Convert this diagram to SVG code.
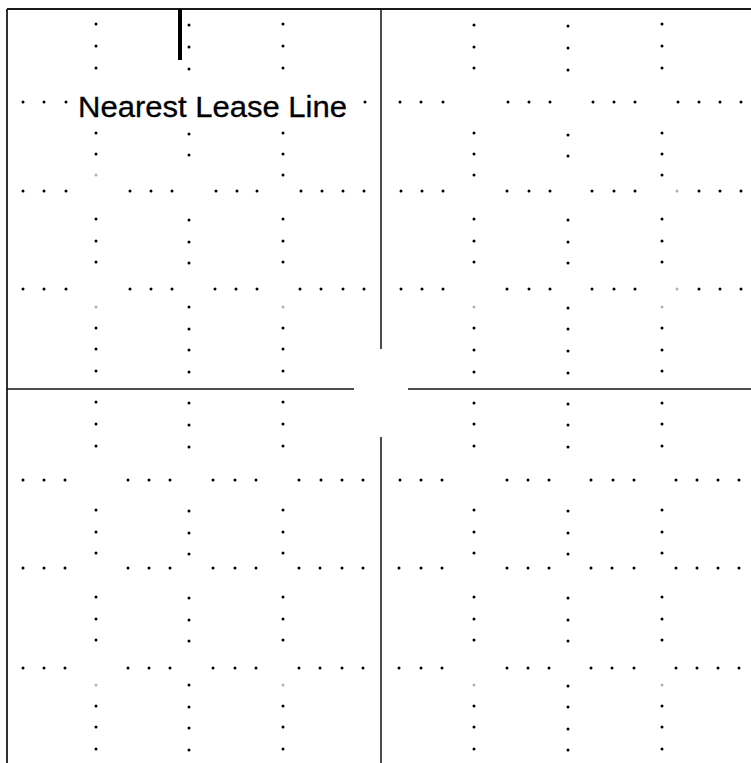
<svg xmlns="http://www.w3.org/2000/svg" xmlns:xlink="http://www.w3.org/1999/xlink" width="751" height="763" viewBox="0 0 751 763">
<style>
.frame{stroke:#1a1a1a;stroke-width:1.8;fill:none}
.axis{stroke:#111;stroke-width:1.5;fill:none}
.dot{fill:#000}
.faint{opacity:0.3}
.label{font-family:"Liberation Sans",Arial,sans-serif;font-size:29px;fill:#000;stroke:#000;stroke-width:0.3}
</style>
<defs>
<circle id="d" r="1.5" class="dot"/>
</defs>
<rect width="751" height="763" fill="#fff"/>
<g id="frame">
<line class="frame" x1="7" y1="9" x2="751" y2="9"/>
<line class="frame" x1="7" y1="9" x2="7" y2="763"/>
</g>
<g id="axes">
<line class="axis" x1="381" y1="9" x2="381" y2="349"/>
<line class="axis" x1="381" y1="437" x2="381" y2="763"/>
<line class="axis" x1="7" y1="389" x2="354" y2="389"/>
<line class="axis" x1="408" y1="389" x2="751" y2="389"/>
</g>
<g id="marker-bar">
<rect x="178" y="9" width="4" height="51" fill="#000"/>
</g>
<g id="dots-vertical">
<use xlink:href="#d" x="96" y="24"/><use xlink:href="#d" x="96" y="46"/><use xlink:href="#d" x="96" y="68"/>
<use xlink:href="#d" x="96" y="133"/><use xlink:href="#d" x="96" y="154"/><use xlink:href="#d" x="96" y="175" class="faint"/>
<use xlink:href="#d" x="96" y="219"/><use xlink:href="#d" x="96" y="241"/><use xlink:href="#d" x="96" y="262"/>
<use xlink:href="#d" x="96" y="307" class="faint"/><use xlink:href="#d" x="96" y="328"/><use xlink:href="#d" x="96" y="349"/><use xlink:href="#d" x="96" y="371"/>
<use xlink:href="#d" x="96" y="402"/><use xlink:href="#d" x="96" y="424"/><use xlink:href="#d" x="96" y="446"/>
<use xlink:href="#d" x="96" y="510"/><use xlink:href="#d" x="96" y="532"/><use xlink:href="#d" x="96" y="553"/>
<use xlink:href="#d" x="96" y="597"/><use xlink:href="#d" x="96" y="619"/><use xlink:href="#d" x="96" y="640"/>
<use xlink:href="#d" x="96" y="685" class="faint"/><use xlink:href="#d" x="96" y="706"/><use xlink:href="#d" x="96" y="727"/><use xlink:href="#d" x="96" y="749"/>
<use xlink:href="#d" x="189" y="25"/><use xlink:href="#d" x="189" y="47"/><use xlink:href="#d" x="189" y="69"/>
<use xlink:href="#d" x="189" y="134"/><use xlink:href="#d" x="189" y="155"/>
<use xlink:href="#d" x="189" y="220"/><use xlink:href="#d" x="189" y="242"/><use xlink:href="#d" x="189" y="263"/>
<use xlink:href="#d" x="189" y="307"/><use xlink:href="#d" x="189" y="329"/><use xlink:href="#d" x="189" y="350"/><use xlink:href="#d" x="189" y="372"/>
<use xlink:href="#d" x="189" y="403"/><use xlink:href="#d" x="189" y="425"/><use xlink:href="#d" x="189" y="447"/>
<use xlink:href="#d" x="189" y="511"/><use xlink:href="#d" x="189" y="533"/><use xlink:href="#d" x="189" y="554"/>
<use xlink:href="#d" x="189" y="598"/><use xlink:href="#d" x="189" y="620"/><use xlink:href="#d" x="189" y="641"/>
<use xlink:href="#d" x="189" y="685"/><use xlink:href="#d" x="189" y="707"/><use xlink:href="#d" x="189" y="728"/><use xlink:href="#d" x="189" y="750"/>
<use xlink:href="#d" x="283" y="24"/><use xlink:href="#d" x="283" y="46"/><use xlink:href="#d" x="283" y="68"/>
<use xlink:href="#d" x="283" y="133"/><use xlink:href="#d" x="283" y="154"/><use xlink:href="#d" x="283" y="175"/>
<use xlink:href="#d" x="283" y="219"/><use xlink:href="#d" x="283" y="241"/><use xlink:href="#d" x="283" y="262"/>
<use xlink:href="#d" x="283" y="307" class="faint"/><use xlink:href="#d" x="283" y="328"/><use xlink:href="#d" x="283" y="349"/><use xlink:href="#d" x="283" y="371"/>
<use xlink:href="#d" x="283" y="402"/><use xlink:href="#d" x="283" y="424"/><use xlink:href="#d" x="283" y="446"/>
<use xlink:href="#d" x="283" y="510"/><use xlink:href="#d" x="283" y="532"/><use xlink:href="#d" x="283" y="553"/>
<use xlink:href="#d" x="283" y="597"/><use xlink:href="#d" x="283" y="619"/><use xlink:href="#d" x="283" y="640"/>
<use xlink:href="#d" x="283" y="685" class="faint"/><use xlink:href="#d" x="283" y="706"/><use xlink:href="#d" x="283" y="727"/><use xlink:href="#d" x="283" y="749"/>
<use xlink:href="#d" x="474" y="25"/><use xlink:href="#d" x="474" y="47"/><use xlink:href="#d" x="474" y="68"/>
<use xlink:href="#d" x="474" y="133"/><use xlink:href="#d" x="474" y="154"/><use xlink:href="#d" x="474" y="175"/>
<use xlink:href="#d" x="474" y="219"/><use xlink:href="#d" x="474" y="241"/><use xlink:href="#d" x="474" y="262"/>
<use xlink:href="#d" x="474" y="307" class="faint"/><use xlink:href="#d" x="474" y="328"/><use xlink:href="#d" x="474" y="350"/><use xlink:href="#d" x="474" y="372"/>
<use xlink:href="#d" x="474" y="403"/><use xlink:href="#d" x="474" y="424"/><use xlink:href="#d" x="474" y="446"/>
<use xlink:href="#d" x="474" y="510"/><use xlink:href="#d" x="474" y="532"/><use xlink:href="#d" x="474" y="553"/>
<use xlink:href="#d" x="474" y="597"/><use xlink:href="#d" x="474" y="619"/><use xlink:href="#d" x="474" y="640"/>
<use xlink:href="#d" x="474" y="685" class="faint"/><use xlink:href="#d" x="474" y="706"/><use xlink:href="#d" x="474" y="727"/><use xlink:href="#d" x="474" y="749"/>
<use xlink:href="#d" x="568" y="26"/><use xlink:href="#d" x="568" y="48"/><use xlink:href="#d" x="568" y="70"/>
<use xlink:href="#d" x="568" y="135"/><use xlink:href="#d" x="568" y="156"/>
<use xlink:href="#d" x="568" y="220"/><use xlink:href="#d" x="568" y="242"/><use xlink:href="#d" x="568" y="263"/>
<use xlink:href="#d" x="568" y="308"/><use xlink:href="#d" x="568" y="329"/><use xlink:href="#d" x="568" y="351"/><use xlink:href="#d" x="568" y="373"/>
<use xlink:href="#d" x="568" y="404"/><use xlink:href="#d" x="568" y="425"/><use xlink:href="#d" x="568" y="447"/>
<use xlink:href="#d" x="568" y="511"/><use xlink:href="#d" x="568" y="533"/><use xlink:href="#d" x="568" y="554"/>
<use xlink:href="#d" x="568" y="598"/><use xlink:href="#d" x="568" y="620"/><use xlink:href="#d" x="568" y="641"/>
<use xlink:href="#d" x="568" y="686"/><use xlink:href="#d" x="568" y="707"/><use xlink:href="#d" x="568" y="729"/><use xlink:href="#d" x="568" y="750"/>
<use xlink:href="#d" x="662" y="24"/><use xlink:href="#d" x="662" y="46"/><use xlink:href="#d" x="662" y="68"/>
<use xlink:href="#d" x="662" y="133"/><use xlink:href="#d" x="662" y="154"/><use xlink:href="#d" x="662" y="175"/>
<use xlink:href="#d" x="662" y="219"/><use xlink:href="#d" x="662" y="241"/><use xlink:href="#d" x="662" y="262"/>
<use xlink:href="#d" x="662" y="307" class="faint"/><use xlink:href="#d" x="662" y="328"/><use xlink:href="#d" x="662" y="350"/><use xlink:href="#d" x="662" y="371"/>
<use xlink:href="#d" x="662" y="403"/><use xlink:href="#d" x="662" y="424"/><use xlink:href="#d" x="662" y="446"/>
<use xlink:href="#d" x="662" y="510"/><use xlink:href="#d" x="662" y="532"/><use xlink:href="#d" x="662" y="553"/>
<use xlink:href="#d" x="662" y="597"/><use xlink:href="#d" x="662" y="619"/><use xlink:href="#d" x="662" y="640"/>
<use xlink:href="#d" x="662" y="685" class="faint"/><use xlink:href="#d" x="662" y="706"/><use xlink:href="#d" x="662" y="727"/><use xlink:href="#d" x="662" y="749"/>
</g>
<g id="dots-rows">
<g id="row-102">
<use xlink:href="#d" x="23" y="102"/><use xlink:href="#d" x="44" y="102"/><use xlink:href="#d" x="66" y="102"/>
<use xlink:href="#d" x="365" y="102"/>
<use xlink:href="#d" x="400" y="102"/><use xlink:href="#d" x="421" y="102"/><use xlink:href="#d" x="443" y="102"/>
<use xlink:href="#d" x="508" y="102"/><use xlink:href="#d" x="529" y="102"/><use xlink:href="#d" x="550" y="102"/>
<use xlink:href="#d" x="593" y="102"/><use xlink:href="#d" x="614" y="102"/><use xlink:href="#d" x="635" y="102"/>
<use xlink:href="#d" x="678" y="102"/><use xlink:href="#d" x="699" y="102"/><use xlink:href="#d" x="720" y="102"/><use xlink:href="#d" x="741" y="102"/>
</g>
<g id="row-191">
<use xlink:href="#d" x="23" y="191"/><use xlink:href="#d" x="44" y="191"/><use xlink:href="#d" x="66" y="191"/>
<use xlink:href="#d" x="130" y="191"/><use xlink:href="#d" x="151" y="191"/><use xlink:href="#d" x="172" y="191"/>
<use xlink:href="#d" x="216" y="191"/><use xlink:href="#d" x="237" y="191"/><use xlink:href="#d" x="257" y="191"/>
<use xlink:href="#d" x="301" y="191"/><use xlink:href="#d" x="322" y="191"/><use xlink:href="#d" x="343" y="191"/><use xlink:href="#d" x="364" y="191"/>
<use xlink:href="#d" x="401" y="191"/><use xlink:href="#d" x="422" y="191"/><use xlink:href="#d" x="443" y="191"/>
<use xlink:href="#d" x="507" y="191"/><use xlink:href="#d" x="529" y="191"/><use xlink:href="#d" x="550" y="191"/>
<use xlink:href="#d" x="592" y="191"/><use xlink:href="#d" x="614" y="191"/><use xlink:href="#d" x="635" y="191"/>
<use xlink:href="#d" x="677" y="191" class="faint"/><use xlink:href="#d" x="699" y="191"/><use xlink:href="#d" x="720" y="191"/><use xlink:href="#d" x="741" y="191"/>
</g>
<g id="row-289">
<use xlink:href="#d" x="23" y="289"/><use xlink:href="#d" x="44" y="289"/><use xlink:href="#d" x="66" y="289"/>
<use xlink:href="#d" x="130" y="289"/><use xlink:href="#d" x="151" y="289"/><use xlink:href="#d" x="172" y="289"/>
<use xlink:href="#d" x="215" y="289"/><use xlink:href="#d" x="236" y="289"/><use xlink:href="#d" x="257" y="289"/>
<use xlink:href="#d" x="300" y="289"/><use xlink:href="#d" x="321" y="289"/><use xlink:href="#d" x="343" y="289"/><use xlink:href="#d" x="364" y="289"/>
<use xlink:href="#d" x="401" y="289"/><use xlink:href="#d" x="422" y="289"/><use xlink:href="#d" x="443" y="289"/>
<use xlink:href="#d" x="507" y="289"/><use xlink:href="#d" x="529" y="289"/><use xlink:href="#d" x="550" y="289"/>
<use xlink:href="#d" x="592" y="289"/><use xlink:href="#d" x="614" y="289"/><use xlink:href="#d" x="635" y="289"/>
<use xlink:href="#d" x="677" y="289" class="faint"/><use xlink:href="#d" x="699" y="289"/><use xlink:href="#d" x="720" y="289"/><use xlink:href="#d" x="741" y="289"/>
</g>
<g id="row-480">
<use xlink:href="#d" x="23" y="480"/><use xlink:href="#d" x="44" y="480"/><use xlink:href="#d" x="65" y="480"/>
<use xlink:href="#d" x="128" y="480"/><use xlink:href="#d" x="149" y="480"/><use xlink:href="#d" x="170" y="480"/>
<use xlink:href="#d" x="213" y="480"/><use xlink:href="#d" x="235" y="480"/><use xlink:href="#d" x="256" y="480"/>
<use xlink:href="#d" x="299" y="480"/><use xlink:href="#d" x="321" y="480"/><use xlink:href="#d" x="342" y="480"/><use xlink:href="#d" x="363" y="480"/>
<use xlink:href="#d" x="400" y="480"/><use xlink:href="#d" x="421" y="480"/><use xlink:href="#d" x="442" y="480"/>
<use xlink:href="#d" x="507" y="480"/><use xlink:href="#d" x="528" y="480"/><use xlink:href="#d" x="549" y="480"/>
<use xlink:href="#d" x="591" y="480"/><use xlink:href="#d" x="613" y="480"/><use xlink:href="#d" x="634" y="480"/>
<use xlink:href="#d" x="676" y="480"/><use xlink:href="#d" x="697" y="480"/><use xlink:href="#d" x="718" y="480"/><use xlink:href="#d" x="739" y="480"/>
</g>
<g id="row-568">
<use xlink:href="#d" x="23" y="568"/><use xlink:href="#d" x="44" y="568"/><use xlink:href="#d" x="65" y="568"/>
<use xlink:href="#d" x="128" y="568"/><use xlink:href="#d" x="149" y="568"/><use xlink:href="#d" x="170" y="568"/>
<use xlink:href="#d" x="213" y="568"/><use xlink:href="#d" x="235" y="568"/><use xlink:href="#d" x="256" y="568"/>
<use xlink:href="#d" x="299" y="568"/><use xlink:href="#d" x="320" y="568"/><use xlink:href="#d" x="342" y="568"/><use xlink:href="#d" x="363" y="568"/>
<use xlink:href="#d" x="399" y="568"/><use xlink:href="#d" x="421" y="568"/><use xlink:href="#d" x="442" y="568"/>
<use xlink:href="#d" x="507" y="568"/><use xlink:href="#d" x="528" y="568"/><use xlink:href="#d" x="549" y="568"/>
<use xlink:href="#d" x="591" y="568"/><use xlink:href="#d" x="612" y="568"/><use xlink:href="#d" x="634" y="568"/>
<use xlink:href="#d" x="676" y="568"/><use xlink:href="#d" x="697" y="568"/><use xlink:href="#d" x="718" y="568"/><use xlink:href="#d" x="739" y="568"/>
</g>
<g id="row-668">
<use xlink:href="#d" x="23" y="668"/><use xlink:href="#d" x="44" y="668"/><use xlink:href="#d" x="65" y="668"/>
<use xlink:href="#d" x="128" y="668"/><use xlink:href="#d" x="149" y="668"/><use xlink:href="#d" x="170" y="668"/>
<use xlink:href="#d" x="213" y="668"/><use xlink:href="#d" x="235" y="668"/><use xlink:href="#d" x="256" y="668"/>
<use xlink:href="#d" x="299" y="668"/><use xlink:href="#d" x="320" y="668"/><use xlink:href="#d" x="342" y="668"/><use xlink:href="#d" x="363" y="668"/>
<use xlink:href="#d" x="399" y="668"/><use xlink:href="#d" x="421" y="668"/><use xlink:href="#d" x="442" y="668"/>
<use xlink:href="#d" x="507" y="668"/><use xlink:href="#d" x="528" y="668"/><use xlink:href="#d" x="549" y="668"/>
<use xlink:href="#d" x="591" y="668"/><use xlink:href="#d" x="612" y="668"/><use xlink:href="#d" x="634" y="668"/>
<use xlink:href="#d" x="676" y="668"/><use xlink:href="#d" x="697" y="668"/><use xlink:href="#d" x="718" y="668"/><use xlink:href="#d" x="739" y="668"/>
</g>
</g>
<g id="label-nearest-lease-line">
<text class="label" x="78" y="117" textLength="269" lengthAdjust="spacingAndGlyphs">Nearest Lease Line</text>
</g>
</svg>
